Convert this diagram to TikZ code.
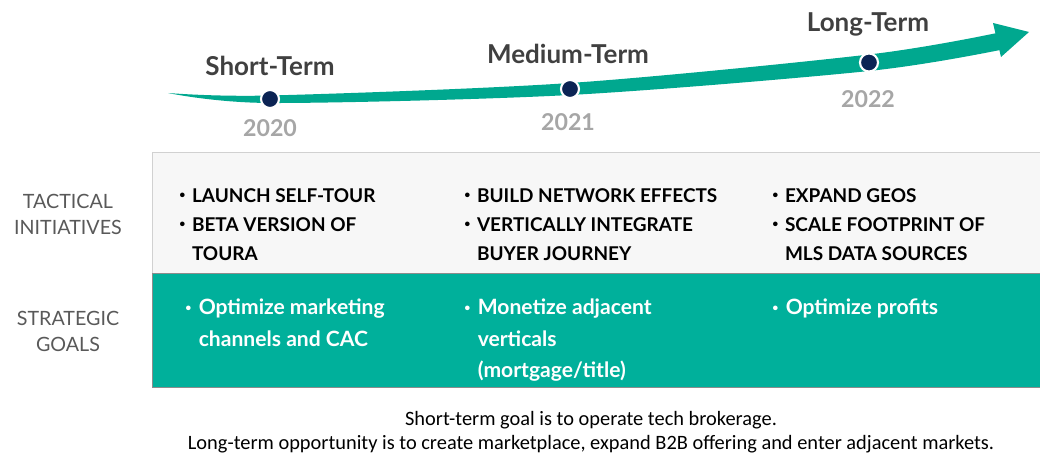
\documentclass[tikz,border=0pt]{standalone}
\usepackage{fontspec}
\setmainfont{Lato}
\newfontfamily\notefont{Carlito}
\definecolor{arrowteal}{HTML}{00A88F}
\definecolor{goalteal}{HTML}{00B09B}
\definecolor{dotnavy}{HTML}{0C2454}
\definecolor{panelgray}{HTML}{F7F7F7}
\definecolor{termgray}{HTML}{404040}
\definecolor{yeargray}{HTML}{A6A6A6}
\definecolor{rowgray}{HTML}{595959}
% small bullet in front of an item
\newcommand{\itm}{\raisebox{2.4pt}{\fontsize{7.5}{8}\selectfont•}\hspace{0.35em}}
\tikzset{
	term/.style={font=\bfseries\fontsize{18.5}{20}\selectfont, text=termgray},
	year/.style={font=\bfseries\fontsize{16.5}{20}\selectfont, text=yeargray},
	dot/.style={circle, inner sep=0pt, minimum size=0.45cm, fill=dotnavy, draw=white, line width=1.5pt},
	rowlabel/.style={align=center, font=\fontsize{14}{18.5}\selectfont, text=rowgray},
	tactic/.style={anchor=north west, inner sep=0pt, align=left, font=\bfseries\fontsize{13.5}{20.6}\selectfont, text=black},
	goal/.style={tactic, text=white, font=\bfseries\fontsize{15}{22.4}\selectfont},
	note/.style={font=\notefont\fontsize{14.5}{16}\selectfont, text=black}
}
\begin{document}
\begin{tikzpicture}[x=0.025cm, y=-0.025cm]
	\useasboundingbox (0,0) rectangle (1040,457);
	% the time line
	\fill[arrowteal] plot[smooth] coordinates {(168,93) (270,95.5) (570,83) (869,54.5) (997,33)}
		-- plot[smooth] coordinates {(1000,50) (869,71) (570,95) (270,103) (168,93)} -- cycle;
	\fill[arrowteal] (993,23) -- (1029,32) -- (1001,57) -- cycle;
	% milestones
	\node[dot] (d1) at (270,99) {};
	\node[dot] (d2) at (570,89) {};
	\node[dot] (d3) at (869,62.5) {};
	\node[term] (short) at (270,66) {Short-Term};
	\node[term] (medium) at (568,54) {Medium-Term};
	\node[term] (long) at (868,24) {Long-Term};
	\node[year] (y1) at (270,128) {2020};
	\node[year] (y2) at (568,122) {2021};
	\node[year] (y3) at (868,99) {2022};
	% the two rows
	\filldraw[fill=panelgray, draw=black!18] (152,152) rectangle (1040,273);
	\filldraw[fill=goalteal, draw=black!45] (152,273) rectangle (1040,387);
	\node[rowlabel] (tactical) at (68,214) {TACTICAL\\INITIATIVES};
	\node[rowlabel] (strategic) at (68,331) {STRATEGIC\\GOALS};
	% tactical initiatives
	\node[tactic] (t1) at (179,188) {\itm LAUNCH SELF-TOUR\\\itm BETA VERSION OF\\\phantom{\itm}TOURA};
	\node[tactic] (t2) at (464,188) {\itm BUILD NETWORK EFFECTS\\\itm VERTICALLY INTEGRATE\\\phantom{\itm}BUYER JOURNEY};
	\node[tactic] (t3) at (772,188) {\itm EXPAND GEOS\\\itm SCALE FOOTPRINT OF\\\phantom{\itm}MLS DATA SOURCES};
	% strategic goals
	\node[goal] (g1) at (185,299) {\itm Optimize marketing\\\phantom{\itm}channels and CAC};
	\node[goal] (g2) at (464,299) {\itm Monetize adjacent\\\phantom{\itm}verticals\\\phantom{\itm}(mortgage/title)};
	\node[goal] (g3) at (772,299) {\itm Optimize profits};
	% notes
	\node[note] (n1) at (591,420) {Short-term goal is to operate tech brokerage.};
	\node[note] (n2) at (591,444) {Long-term opportunity is to create marketplace, expand B2B offering and enter adjacent markets.};
\end{tikzpicture}
\end{document}
